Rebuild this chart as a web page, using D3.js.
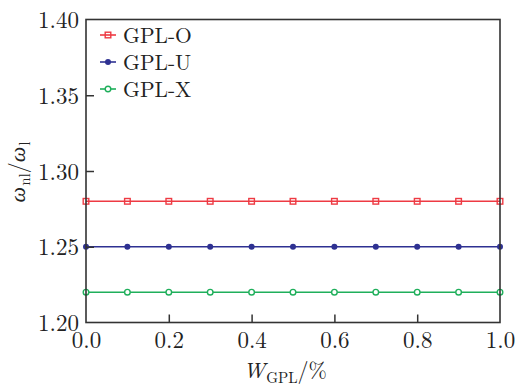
<!DOCTYPE html>
<html><head><meta charset="utf-8">
<script src="https://cdn.jsdelivr.net/npm/d3@7"></script>
<style>body{margin:0;background:#fff}svg{display:block}text{font-family:"Latin Modern Roman","CMU Serif","Liberation Serif",serif;fill:#222}</style>
</head><body><svg id="c" width="526" height="391"></svg>
<script>
const xValues = [0.0,0.1,0.2,0.3,0.4,0.5,0.6,0.7,0.8,0.9,1.0];
const gplO = [1.28,1.28,1.28,1.28,1.28,1.28,1.28,1.28,1.28,1.28,1.28];
const gplU = [1.25,1.25,1.25,1.25,1.25,1.25,1.25,1.25,1.25,1.25,1.25];
const gplX = [1.22,1.22,1.22,1.22,1.22,1.22,1.22,1.22,1.22,1.22,1.22];
const seriesNames = ["GPL-O","GPL-U","GPL-X"];
const xTicks = [0.0,0.2,0.4,0.6,0.8,1.0];
const yTicks = [1.20,1.25,1.30,1.35,1.40];

const colors = ["#ee3a43","#2e3192","#1faf5b"];
const markers = ["square","dot","ring"];
const series = [gplO,gplU,gplX];

const svg = d3.select("#c");
const L=86, R=500, T=19.5, B=322.5;
const FS = 22, TFS = 23, LFS = 21.5;
const x = d3.scaleLinear().domain([0,1]).range([L,R]);
const y = d3.scaleLinear().domain([1.20,1.40]).range([B,T]);

function drawMarker(g,type,cx,cy,col){
  if(type==="square") g.append("rect").attr("x",cx-2.8).attr("y",cy-2.8).attr("width",5.6).attr("height",5.6)
     .attr("fill","none").attr("stroke",col).attr("stroke-width",1.4);
  else if(type==="dot") g.append("circle").attr("cx",cx).attr("cy",cy).attr("r",3).attr("fill",col);
  else g.append("circle").attr("cx",cx).attr("cy",cy).attr("r",2.8).attr("fill","#fff").attr("stroke",col).attr("stroke-width",1.4);
}

// lines and markers
series.forEach((vals,i)=>{
  const pts = xValues.map((xv,j)=>[xv,vals[j]]);
  svg.append("path").attr("d",d3.line().x(d=>x(d[0])).y(d=>y(d[1]))(pts))
    .attr("fill","none").attr("stroke",colors[i]).attr("stroke-width",1.6);
  const g = svg.append("g");
  pts.forEach(p=>drawMarker(g,markers[i],x(p[0]),y(p[1]),colors[i]));
});

// frame
svg.append("rect").attr("x",L).attr("y",T).attr("width",R-L).attr("height",B-T)
  .attr("fill","none").attr("stroke","#333").attr("stroke-width",1.6);

// y axis
const ya = svg.append("g").attr("transform",`translate(${L},0)`)
  .call(d3.axisLeft(y).tickValues(yTicks).tickSizeInner(-8).tickSizeOuter(0).tickPadding(7).tickFormat(d3.format(".2f")));
ya.select(".domain").remove();
ya.selectAll("line").attr("stroke","#333").attr("stroke-width",1.5);
ya.selectAll("text").attr("font-size",TFS).attr("fill","#222").attr("dy","0.35em").attr("font-family",null);
ya.selectAll(".tick").filter(d=>d===1.20||d===1.40).select("line").remove();

// x axis
const xa = svg.append("g").attr("transform",`translate(0,${B})`)
  .call(d3.axisBottom(x).tickValues(xTicks).tickSizeInner(-8).tickSizeOuter(0).tickPadding(9).tickFormat(d3.format(".1f")));
xa.select(".domain").remove();
xa.selectAll("line").attr("stroke","#333").attr("stroke-width",1.5);
xa.selectAll("text").attr("font-size",TFS).attr("fill","#222").attr("dy","0.71em").attr("font-family",null);
xa.selectAll(".tick").filter(d=>d===0||d===1).select("line").remove();

// legend
const legY=[35,62,89];
seriesNames.forEach((n,i)=>{
  svg.append("line").attr("x1",100).attr("x2",116).attr("y1",legY[i]).attr("y2",legY[i])
    .attr("stroke",colors[i]).attr("stroke-width",1.6);
  drawMarker(svg,markers[i],108,legY[i],colors[i]);
  svg.append("text").attr("x",123).attr("y",legY[i]).attr("dy","0.35em").attr("font-size",LFS).text(n);
});

// composite label builder: parts = [text, italic, sub]
function compose(g, parts){
  let cx = 0;
  parts.forEach(([t,it,sub])=>{
    const el = g.append("text").attr("x",cx).attr("y",sub?5:0)
      .attr("font-size",sub?15:FS).attr("font-style",it?"italic":"normal").text(t);
    cx += el.node().getComputedTextLength() + (it?1:0);
  });
  return cx;
}

// x title
const gx = svg.append("g");
const wx = compose(gx, [["W",true,false],["GPL",false,true],["/%",false,false]]);
gx.attr("transform",`translate(${285 - wx/2},378)`);

// y title
const gy = svg.append("g");
const wy = compose(gy, [["ω",true,false],["nl",false,true],["/",false,false],["ω",true,false],["l",false,true]]);
gy.attr("transform",`translate(25,${172 + wy/2}) rotate(-90)`);
</script></body></html>
